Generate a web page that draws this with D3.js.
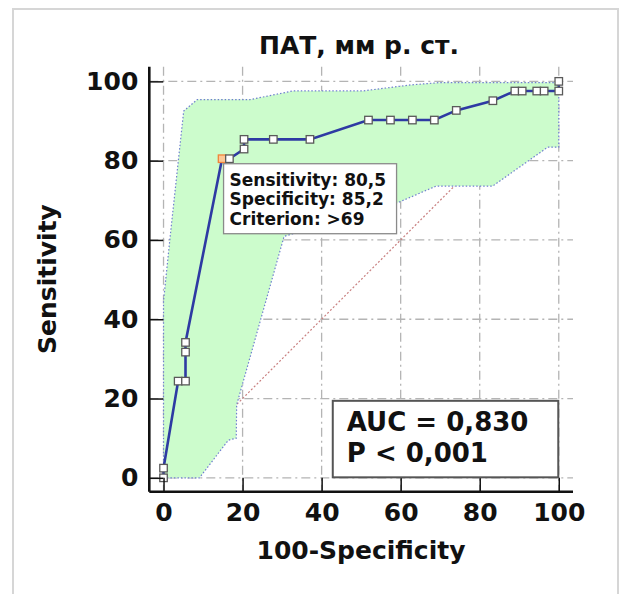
<!DOCTYPE html>
<html>
<head>
<meta charset="utf-8">
<script src="https://cdn.jsdelivr.net/npm/d3@7"></script>
<style>
  body { margin: 0; background: #fff; }
  text { font-family: "DejaVu Sans", Verdana, sans-serif; font-weight: bold; fill: #111; }
</style>
</head>
<body>
<svg id="chart" width="625" height="594"></svg>
<script>
// ============= Data =============
// ROC curve points (100-Specificity, Sensitivity)
const rocX = [0, 0, 3.70, 5.56, 5.56, 5.56, 14.81, 16.67, 20.37, 20.37, 27.78, 37.04,
  51.85, 57.41, 62.96, 68.52, 74.07, 83.33, 88.89, 90.74, 94.44, 96.30, 100, 100];
const rocY = [0, 2.44, 24.39, 24.39, 31.71, 34.15, 80.49, 80.49, 82.93, 85.37, 85.37, 85.37,
  90.24, 90.24, 90.24, 90.24, 92.68, 95.12, 97.56, 97.56, 97.56, 97.56, 97.56, 100];

// Confidence band, upper edge (left to right) and lower edge (right to left)
const upperX = [0, 0, 1.8, 5.1, 8.5, 21.9, 32.8, 50.5, 62.5, 70, 100];
const upperY = [0, 44.6, 62, 92.5, 95.4, 95.4, 97.6, 97.6, 99.1, 99.7, 99.7];
const lowerX = [100, 97.2, 83.3, 69, 59.5, 30.5, 18.5, 18.4, 16.4, 9.1, 0];
const lowerY = [83.4, 83.4, 73.6, 73.6, 69.5, 60.9, 18.4, 10, 9.5, 0, 0];

// Criterion point and labels
const criterionIndex = 6;
const criterionLines = ['Sensitivity: 80,5', 'Specificity: 85,2', 'Criterion: >69'];
const statLines = ['AUC = 0,830', 'P < 0,001'];
const ticksMajor = [0, 20, 40, 60, 80, 100];
const ticksMinor = d3.range(0, 101, 5).filter(v => v % 20 !== 0);

const title = 'ПАТ, мм р. ст.';
const xTitle = '100-Specificity';
const yTitle = 'Sensitivity';

// ============= Scales =============
const x = d3.scaleLinear().domain([-3.6, 103.6]).range([149.3, 573]);
const y = d3.scaleLinear().domain([-3.5, 103.7]).range([491.7, 66.7]);

const svg = d3.select('#chart');

// outer frame
svg.append('rect')
  .attr('x', 13).attr('y', 9)
  .attr('width', 605).attr('height', 600)
  .attr('fill', 'none')
  .attr('stroke', '#d6d6d6')
  .attr('stroke-width', 2);

// ============= Grid =============
const grid = svg.append('g').attr('class', 'grid')
  .attr('stroke', '#b4b4b4')
  .attr('stroke-width', 1.3)
  .attr('stroke-dasharray', '9,4,2,4');

grid.selectAll('.gx')
  .data(ticksMajor)
  .enter()
  .append('line')
  .attr('x1', d => x(d)).attr('x2', d => x(d))
  .attr('y1', y.range()[1]).attr('y2', y.range()[0]);

grid.selectAll('.gy')
  .data(ticksMajor)
  .enter()
  .append('line')
  .attr('x1', x.range()[0]).attr('x2', x.range()[1])
  .attr('y1', d => y(d)).attr('y2', d => y(d));

// reference diagonal
svg.append('line')
  .attr('x1', x(0)).attr('y1', y(0))
  .attr('x2', x(100)).attr('y2', y(100))
  .attr('stroke', '#c98080')
  .attr('stroke-width', 1.2)
  .attr('stroke-dasharray', '2,2');

// ============= Confidence band =============
const bandPts = upperX.map((d, i) => [d, upperY[i]])
  .concat(lowerX.map((d, i) => [d, lowerY[i]]));

const bandLine = d3.line().x(d => x(d[0])).y(d => y(d[1]));

svg.append('path')
  .datum(bandPts)
  .attr('d', d => bandLine(d) + 'Z')
  .attr('fill', '#ccfccc')
  .attr('stroke', '#6f7fcf')
  .attr('stroke-width', 1.2)
  .attr('stroke-dasharray', '1.5,2');

// ============= ROC curve =============
const rocPts = rocX.map((d, i) => [d, rocY[i]]);

svg.append('path')
  .datum(rocPts)
  .attr('d', bandLine)
  .attr('fill', 'none')
  .attr('stroke', '#2e3aa3')
  .attr('stroke-width', 2.6);

const sq = 7.5;
svg.selectAll('.pt')
  .data(rocPts)
  .enter()
  .append('rect')
  .attr('class', 'pt')
  .attr('x', d => x(d[0]) - sq / 2)
  .attr('y', d => y(d[1]) - sq / 2)
  .attr('width', sq).attr('height', sq)
  .attr('fill', (d, i) => i === criterionIndex ? '#fcc896' : '#fff')
  .attr('stroke', (d, i) => i === criterionIndex ? '#f0843a' : '#5a5a5a')
  .attr('stroke-width', 1.3);

// ============= Axes =============
function drawAxis(axis, minor, transform){
  const g = svg.append('g').attr('transform', transform);
  g.call(minor);
  g.call(axis);
  g.selectAll('.domain').remove();
  g.selectAll('line').attr('stroke', '#111').attr('stroke-width', 1.5);
  return g;
}

// x axis
const gxMinor = d3.axisBottom(x).tickValues(ticksMinor).tickSize(-7).tickFormat('');
const gxMajor = d3.axisBottom(x).tickValues(ticksMajor).tickSize(-14).tickPadding(12);
const gx = drawAxis(gxMajor, gxMinor, 'translate(0,' + y.range()[0] + ')');
gx.selectAll('text').style('font-size', '25px').attr('fill', '#111');
gx.append('line')
  .attr('x1', x.range()[0]).attr('x2', x.range()[1])
  .attr('stroke', '#111').attr('stroke-width', 2.6);

// y axis
const gyMinor = d3.axisLeft(y).tickValues(ticksMinor).tickSize(-7).tickFormat('');
const gyMajor = d3.axisLeft(y).tickValues(ticksMajor).tickSize(-14).tickPadding(11);
const gy = drawAxis(gyMajor, gyMinor, 'translate(' + x.range()[0] + ',0)');
gy.selectAll('text').style('font-size', '25px').attr('fill', '#111');
gy.append('line')
  .attr('y1', y.range()[0]).attr('y2', y.range()[1])
  .attr('stroke', '#111').attr('stroke-width', 2.6);

// ============= Titles =============
svg.append('text')
  .attr('x', 359).attr('y', 54)
  .attr('text-anchor', 'middle')
  .style('font-size', '25px')
  .text(title);

svg.append('text')
  .attr('x', 361).attr('y', 559)
  .attr('text-anchor', 'middle')
  .style('font-size', '25px')
  .text(xTitle);

svg.append('text')
  .attr('transform', 'translate(47,279) rotate(-90)')
  .attr('dy', '0.35em')
  .attr('text-anchor', 'middle')
  .style('font-size', '25px')
  .text(yTitle);

// ============= Criterion box =============
const cx = x(rocX[criterionIndex]), cy = y(rocY[criterionIndex]);
const critBox = svg.append('g').attr('transform', 'translate(' + (cx + 1.5) + ',' + (cy + 5) + ')');

critBox.append('rect')
  .attr('width', 173).attr('height', 70)
  .attr('fill', '#fff')
  .attr('stroke', '#8a8a8a')
  .attr('stroke-width', 1.3);

critBox.selectAll('text')
  .data(criterionLines)
  .enter()
  .append('text')
  .attr('x', 6)
  .attr('y', (d, i) => 22 + i * 19.5)
  .style('font-size', '17px')
  .text(d => d);

// ============= AUC box =============
const aucBox = svg.append('g')
  .attr('transform', 'translate(' + (x(100) - 226) + ',' + (y(0) - 77) + ')');

aucBox.append('rect')
  .attr('width', 225.5).attr('height', 76.5)
  .attr('fill', '#fff')
  .attr('stroke', '#555')
  .attr('stroke-width', 2);

aucBox.selectAll('text')
  .data(statLines)
  .enter()
  .append('text')
  .attr('x', 14)
  .attr('y', (d, i) => 30 + i * 31.5)
  .style('font-size', '26px')
  .text(d => d);
</script>
</body>
</html>
